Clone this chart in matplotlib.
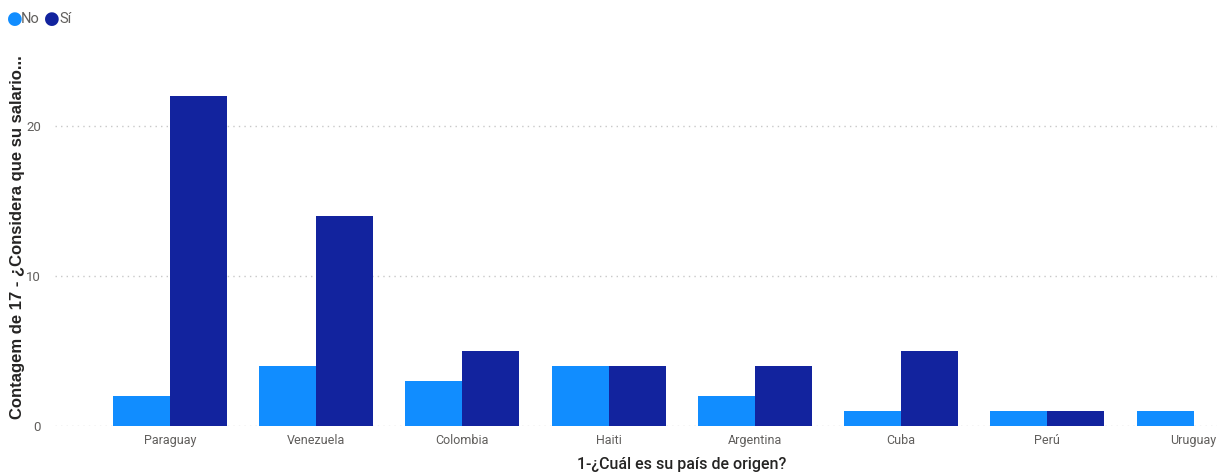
import matplotlib.pyplot as plt
import numpy as np

countries = ['Paraguay', 'Venezuela', 'Colombia', 'Haiti', 'Argentina', 'Cuba', 'Perú', 'Uruguay']
no_vals = [2, 4, 3, 4, 2, 1, 1, 1]
si_vals = [22, 14, 5, 4, 4, 5, 1, 0]
yticks = [0, 10, 20]

c_no = '#118DFF'
c_si = '#12239E'
c_txt = '#605E5C'

fig = plt.figure(figsize=(12.17, 4.74), dpi=100)
ax = fig.add_axes([55 / 1217, 48 / 474, 1 - 55 / 1217, 370 / 474])

x = np.arange(len(countries))
w = 0.39
ax.bar(x - w / 2, no_vals, w, color=c_no, zorder=3)
ax.bar(x + w / 2, si_vals, w, color=c_si, zorder=3)

ax.set_xlim(-0.786, 7.16)
ax.set_ylim(0, 24.67)
ax.set_yticks(yticks)
ax.set_xticks(x)
ax.set_xticklabels(countries, fontsize=9, color=c_txt, family='Roboto')
ax.set_yticklabels([str(t) for t in yticks], fontsize=9.5, color=c_txt, family='Roboto')
ax.tick_params(length=0, pad=10, axis='y')
ax.tick_params(length=0, pad=6, axis='x')
ax.grid(axis='y', linestyle=(0, (1, 3)), color='#C8C8C8', linewidth=1, zorder=0)
for s in ax.spines.values():
    s.set_visible(False)

# axis titles
fig.text(682 / 1217, 1 - 464 / 474, '1-¿Cuál es su país de origen?', fontsize=11.5,
         color='#252423', family='Roboto', fontweight='medium', ha='center', va='center')
fig.text(18 / 1217, 0.5, 'Contagem de 17 - ¿Considera que su salario...',
         rotation=90, ha='center', va='center', fontsize=12,
         fontweight='bold', color='#252423', family='Liberation Sans')

# legend
ly = 1 - 19 / 474
fig.text(7 / 1217, ly, '●', color=c_no, fontsize=13, va='center', family='DejaVu Sans')
fig.text(21 / 1217, ly, 'No', color=c_txt, fontsize=10.5, va='center', family='Roboto')
fig.text(44 / 1217, ly, '●', color=c_si, fontsize=13, va='center', family='DejaVu Sans')
fig.text(59 / 1217, ly, 'Sí', color=c_txt, fontsize=10.5, va='center', family='Roboto')

fig.savefig('out.png', dpi=100)
